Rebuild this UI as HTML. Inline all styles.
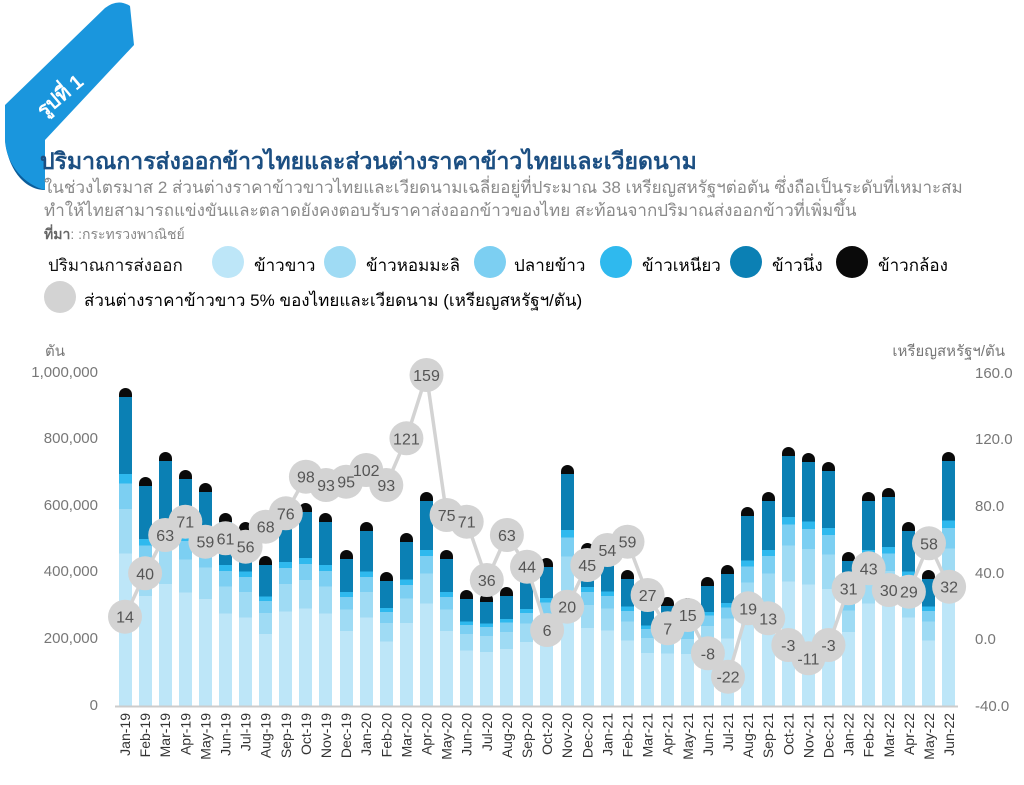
<!DOCTYPE html>
<html><head><meta charset="utf-8"><style>
body{margin:0;width:1024px;height:785px;background:#fff;position:relative;overflow:hidden;font-family:"Liberation Sans","Noto Sans CJK SC",sans-serif}
.t{position:absolute;white-space:nowrap}
.bars{position:absolute;left:118.5px;top:300px;height:406px;display:flex;align-items:flex-end;gap:7.1px}
.bars div{width:13px;border-radius:7px 7px 0 0;background:linear-gradient(to top,#bde6f8 0 48%,#9fdbf4 48% 62%,#7ccff2 62% 70%,#2fb9ee 70% 73%,#0b80b4 73% calc(100% - 9px),#0a0a0a calc(100% - 9px))}
.dot{position:absolute;width:32px;height:32px;border-radius:50%}
.yl{position:absolute;left:0;width:98px;text-align:right;font-size:15px;color:#777}
</style></head><body>
<svg width="160" height="200" style="position:absolute;left:0;top:0">
<path d="M5,140 C8,170 25,190 45,190 L45,140 Z" fill="#0b5d9a"/>
<path d="M5,105 L105,8 Q118,-2 130,6 L134,45 L45,140 L45,190 C25,185 6,165 5,140 Z" fill="#1a96dd"/>
<text x="44" y="118" fill="#fff" font-size="20" font-weight="bold" transform="rotate(-40 44 118)" font-family="Liberation Sans,Noto Sans CJK SC,sans-serif">รูปที่ 1</text>
</svg>
<div class="t" style="left:40px;top:144px;font-size:23px;color:#1c4f82;font-weight:bold">ปริมาณการส่งออกข้าวไทยและส่วนต่างราคาข้าวไทยและเวียดนาม</div>
<div class="t" style="left:44px;top:174px;font-size:17px;color:#8a8a8a">ในช่วงไตรมาส 2 ส่วนต่างราคาข้าวขาวไทยและเวียดนามเฉลี่ยอยู่ที่ประมาณ 38 เหรียญสหรัฐฯต่อตัน ซึ่งถือเป็นระดับที่เหมาะสม</div>
<div class="t" style="left:44px;top:197px;font-size:17px;color:#8a8a8a">ทำให้ไทยสามารถแข่งขันและตลาดยังคงตอบรับราคาส่งออกข้าวของไทย สะท้อนจากปริมาณส่งออกข้าวที่เพิ่มขึ้น</div>
<div class="t" style="left:44px;top:224px;font-size:14px;color:#888"><b style="color:#666">ที่มา</b>: :กระทรวงพาณิชย์</div>
<div class="t" style="left:48px;top:252px;font-size:17px;color:#111">ปริมาณการส่งออก</div>
<div class="dot" style="left:212px;top:246px;background:#bde6f8"></div><div class="t" style="left:254px;top:252px;font-size:17px">ข้าวขาว</div>
<div class="dot" style="left:324px;top:246px;background:#9fdbf4"></div><div class="t" style="left:366px;top:252px;font-size:17px">ข้าวหอมมะลิ</div>
<div class="dot" style="left:474px;top:246px;background:#7ccff2"></div><div class="t" style="left:514px;top:252px;font-size:17px">ปลายข้าว</div>
<div class="dot" style="left:600px;top:246px;background:#2fb9ee"></div><div class="t" style="left:642px;top:252px;font-size:17px">ข้าวเหนียว</div>
<div class="dot" style="left:730px;top:246px;background:#0b80b4"></div><div class="t" style="left:772px;top:252px;font-size:17px">ข้าวนึ่ง</div>
<div class="dot" style="left:836px;top:246px;background:#0a0a0a"></div><div class="t" style="left:878px;top:252px;font-size:17px">ข้าวกล้อง</div>
<div class="dot" style="left:44px;top:281px;background:#d3d3d3"></div><div class="t" style="left:84px;top:287px;font-size:17px">ส่วนต่างราคาข้าวขาว 5% ของไทยและเวียดนาม (เหรียญสหรัฐฯ/ตัน)</div>
<div class="bars">
<div style="height:318px"></div><div style="height:229px"></div><div style="height:254px"></div><div style="height:236px"></div><div style="height:223px"></div><div style="height:193px"></div><div style="height:184px"></div><div style="height:150px"></div><div style="height:197px"></div><div style="height:203px"></div><div style="height:193px"></div><div style="height:156px"></div><div style="height:184px"></div><div style="height:134px"></div><div style="height:173px"></div><div style="height:214px"></div><div style="height:156px"></div><div style="height:116px"></div><div style="height:113px"></div><div style="height:119px"></div><div style="height:133px"></div><div style="height:148px"></div><div style="height:241px"></div><div style="height:163px"></div><div style="height:157px"></div><div style="height:136px"></div><div style="height:110px"></div><div style="height:109px"></div><div style="height:108px"></div><div style="height:129px"></div><div style="height:141px"></div><div style="height:199px"></div><div style="height:214px"></div><div style="height:259px"></div><div style="height:253px"></div><div style="height:244px"></div><div style="height:154px"></div><div style="height:214px"></div><div style="height:218px"></div><div style="height:184px"></div><div style="height:136px"></div><div style="height:254px"></div>
</div>
<div class="yl" style="top:364px">1,000,000</div>
<div class="yl" style="top:430px">800,000</div>
<div class="yl" style="top:497px">600,000</div>
<div class="yl" style="top:563px">400,000</div>
<div class="yl" style="top:630px">200,000</div>
<div class="yl" style="top:697px">0</div>
<svg width="1024" height="785" style="position:absolute;left:0;top:0" font-family="Liberation Sans,Noto Sans CJK SC,sans-serif">
<line x1="115" y1="706.5" x2="958" y2="706.5" stroke="#ccc" stroke-width="2"/>
<g font-size="15" fill="#777" text-anchor="start">
<text x="975" y="378">160.0</text><text x="975" y="444">120.0</text><text x="975" y="511">80.0</text><text x="975" y="578">40.0</text><text x="975" y="644">0.0</text><text x="975" y="711">-40.0</text>
</g>
<text x="45" y="356" font-size="15" fill="#777">ตัน</text>
<text x="1005" y="356" font-size="15" fill="#777" text-anchor="end">เหรียญสหรัฐฯ/ตัน</text>
<polyline fill="none" stroke="#d3d3d3" stroke-width="3.5" points="125,616.7 145.1,573.3 165.2,535 185.3,521.7 205.4,541.7 225.5,538.3 245.6,546.7 265.7,526.7 285.8,513.3 305.9,476.7 326,485 346.1,481.7 366.2,470 386.3,485 406.4,438.3 426.5,375 446.6,515 466.7,521.7 486.8,580 506.9,535 527,566.7 547.1,630 567.2,606.7 587.3,565 607.4,550 627.5,541.7 647.6,595 667.7,628.3 687.8,615 707.9,653.3 728,676.7 748.1,608.3 768.2,618.3 788.3,645 808.4,658.3 828.5,645 848.6,588.3 868.7,568.3 888.8,590 908.9,591.7 929,543.3 949.1,586.7"/>
<g fill="#d3d3d3">
<circle cx="125" cy="616.7" r="17"/><circle cx="145.1" cy="573.3" r="17"/><circle cx="165.2" cy="535" r="17"/><circle cx="185.3" cy="521.7" r="17"/><circle cx="205.4" cy="541.7" r="17"/><circle cx="225.5" cy="538.3" r="17"/><circle cx="245.6" cy="546.7" r="17"/><circle cx="265.7" cy="526.7" r="17"/><circle cx="285.8" cy="513.3" r="17"/><circle cx="305.9" cy="476.7" r="17"/><circle cx="326" cy="485" r="17"/><circle cx="346.1" cy="481.7" r="17"/><circle cx="366.2" cy="470" r="17"/><circle cx="386.3" cy="485" r="17"/><circle cx="406.4" cy="438.3" r="17"/><circle cx="426.5" cy="375" r="17"/><circle cx="446.6" cy="515" r="17"/><circle cx="466.7" cy="521.7" r="17"/><circle cx="486.8" cy="580" r="17"/><circle cx="506.9" cy="535" r="17"/><circle cx="527" cy="566.7" r="17"/><circle cx="547.1" cy="630" r="17"/><circle cx="567.2" cy="606.7" r="17"/><circle cx="587.3" cy="565" r="17"/><circle cx="607.4" cy="550" r="17"/><circle cx="627.5" cy="541.7" r="17"/><circle cx="647.6" cy="595" r="17"/><circle cx="667.7" cy="628.3" r="17"/><circle cx="687.8" cy="615" r="17"/><circle cx="707.9" cy="653.3" r="17"/><circle cx="728" cy="676.7" r="17"/><circle cx="748.1" cy="608.3" r="17"/><circle cx="768.2" cy="618.3" r="17"/><circle cx="788.3" cy="645" r="17"/><circle cx="808.4" cy="658.3" r="17"/><circle cx="828.5" cy="645" r="17"/><circle cx="848.6" cy="588.3" r="17"/><circle cx="868.7" cy="568.3" r="17"/><circle cx="888.8" cy="590" r="17"/><circle cx="908.9" cy="591.7" r="17"/><circle cx="929" cy="543.3" r="17"/><circle cx="949.1" cy="586.7" r="17"/>
</g>
<g font-size="16" fill="#555" text-anchor="middle">
<text x="125" y="622.7">14</text><text x="145.1" y="579.3">40</text><text x="165.2" y="541">63</text><text x="185.3" y="527.7">71</text><text x="205.4" y="547.7">59</text><text x="225.5" y="544.3">61</text><text x="245.6" y="552.7">56</text><text x="265.7" y="532.7">68</text><text x="285.8" y="519.3">76</text><text x="305.9" y="482.7">98</text><text x="326" y="491">93</text><text x="346.1" y="487.7">95</text><text x="366.2" y="476">102</text><text x="386.3" y="491">93</text><text x="406.4" y="444.3">121</text><text x="426.5" y="381">159</text><text x="446.6" y="521">75</text><text x="466.7" y="527.7">71</text><text x="486.8" y="586">36</text><text x="506.9" y="541">63</text><text x="527" y="572.7">44</text><text x="547.1" y="636">6</text><text x="567.2" y="612.7">20</text><text x="587.3" y="571">45</text><text x="607.4" y="556">54</text><text x="627.5" y="547.7">59</text><text x="647.6" y="601">27</text><text x="667.7" y="634.3">7</text><text x="687.8" y="621">15</text><text x="707.9" y="659.3">-8</text><text x="728" y="682.7">-22</text><text x="748.1" y="614.3">19</text><text x="768.2" y="624.3">13</text><text x="788.3" y="651">-3</text><text x="808.4" y="664.3">-11</text><text x="828.5" y="651">-3</text><text x="848.6" y="594.3">31</text><text x="868.7" y="574.3">43</text><text x="888.8" y="596">30</text><text x="908.9" y="597.7">29</text><text x="929" y="549.3">58</text><text x="949.1" y="592.7">32</text>
</g>
<g font-size="14" fill="#333" text-anchor="end">
<text transform="translate(130,713) rotate(-90)">Jan-19</text><text transform="translate(150.1,713) rotate(-90)">Feb-19</text><text transform="translate(170.2,713) rotate(-90)">Mar-19</text><text transform="translate(190.3,713) rotate(-90)">Apr-19</text><text transform="translate(210.4,713) rotate(-90)">May-19</text><text transform="translate(230.5,713) rotate(-90)">Jun-19</text><text transform="translate(250.6,713) rotate(-90)">Jul-19</text><text transform="translate(270.7,713) rotate(-90)">Aug-19</text><text transform="translate(290.8,713) rotate(-90)">Sep-19</text><text transform="translate(310.9,713) rotate(-90)">Oct-19</text><text transform="translate(331,713) rotate(-90)">Nov-19</text><text transform="translate(351.1,713) rotate(-90)">Dec-19</text><text transform="translate(371.2,713) rotate(-90)">Jan-20</text><text transform="translate(391.3,713) rotate(-90)">Feb-20</text><text transform="translate(411.4,713) rotate(-90)">Mar-20</text><text transform="translate(431.5,713) rotate(-90)">Apr-20</text><text transform="translate(451.6,713) rotate(-90)">May-20</text><text transform="translate(471.7,713) rotate(-90)">Jun-20</text><text transform="translate(491.8,713) rotate(-90)">Jul-20</text><text transform="translate(511.9,713) rotate(-90)">Aug-20</text><text transform="translate(532,713) rotate(-90)">Sep-20</text><text transform="translate(552.1,713) rotate(-90)">Oct-20</text><text transform="translate(572.2,713) rotate(-90)">Nov-20</text><text transform="translate(592.3,713) rotate(-90)">Dec-20</text><text transform="translate(612.4,713) rotate(-90)">Jan-21</text><text transform="translate(632.5,713) rotate(-90)">Feb-21</text><text transform="translate(652.6,713) rotate(-90)">Mar-21</text><text transform="translate(672.7,713) rotate(-90)">Apr-21</text><text transform="translate(692.8,713) rotate(-90)">May-21</text><text transform="translate(712.9,713) rotate(-90)">Jun-21</text><text transform="translate(733,713) rotate(-90)">Jul-21</text><text transform="translate(753.1,713) rotate(-90)">Aug-21</text><text transform="translate(773.2,713) rotate(-90)">Sep-21</text><text transform="translate(793.3,713) rotate(-90)">Oct-21</text><text transform="translate(813.4,713) rotate(-90)">Nov-21</text><text transform="translate(833.5,713) rotate(-90)">Dec-21</text><text transform="translate(853.6,713) rotate(-90)">Jan-22</text><text transform="translate(873.7,713) rotate(-90)">Feb-22</text><text transform="translate(893.8,713) rotate(-90)">Mar-22</text><text transform="translate(913.9,713) rotate(-90)">Apr-22</text><text transform="translate(934,713) rotate(-90)">May-22</text><text transform="translate(954.1,713) rotate(-90)">Jun-22</text>
</g>
</svg>
</body></html>
